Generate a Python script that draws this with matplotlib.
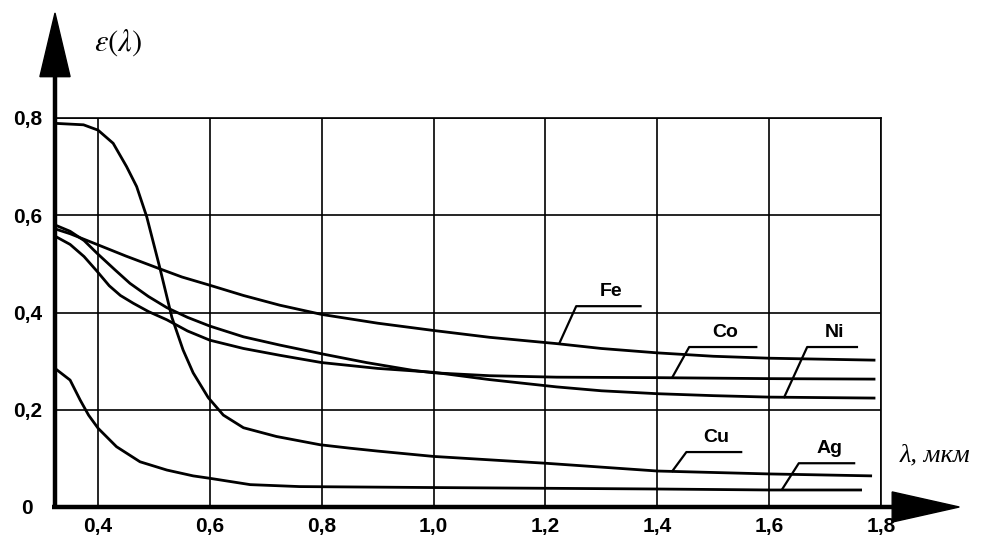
import matplotlib
matplotlib.use("Agg")
from matplotlib import pyplot as plt
from matplotlib.patches import Polygon

# wavelength (um) / emissivity readings for each metal
cu_x = [0.323, 0.374, 0.40, 0.427, 0.451, 0.469, 0.487, 0.51, 0.532, 0.552, 0.57,
        0.597, 0.624, 0.66, 0.719, 0.797, 0.85, 0.90, 1.0, 1.2, 1.4, 1.6, 1.784]
cu_y = [0.789, 0.786, 0.775, 0.748, 0.70, 0.659, 0.597, 0.494, 0.39, 0.323, 0.276,
        0.225, 0.189, 0.163, 0.145, 0.128, 0.121, 0.115, 0.104, 0.09, 0.074, 0.068, 0.064]

ag_x = [0.323, 0.35, 0.368, 0.383, 0.40, 0.433, 0.475, 0.523, 0.57, 0.60, 0.672,
        0.76, 1.0, 1.4, 1.6, 1.766]
ag_y = [0.285, 0.261, 0.22, 0.189, 0.162, 0.124, 0.093, 0.076, 0.064, 0.059, 0.046,
        0.042, 0.04, 0.037, 0.035, 0.035]

fe_x = [0.323, 0.35, 0.398, 0.45, 0.51, 0.55, 0.60, 0.66, 0.725, 0.80, 0.90, 1.0,
        1.1, 1.22, 1.3, 1.4, 1.5, 1.6, 1.79]
fe_y = [0.572, 0.562, 0.54, 0.516, 0.49, 0.473, 0.456, 0.435, 0.415, 0.396, 0.378, 0.363,
        0.349, 0.336, 0.326, 0.317, 0.31, 0.306, 0.302]

co_x = [0.323, 0.35, 0.375, 0.398, 0.43, 0.457, 0.49, 0.523, 0.56, 0.60, 0.66, 0.725,
        0.80, 0.88, 0.963, 1.0, 1.1, 1.22, 1.4, 1.6, 1.79]
co_y = [0.58, 0.567, 0.548, 0.522, 0.488, 0.46, 0.433, 0.41, 0.39, 0.372, 0.35, 0.333,
        0.315, 0.297, 0.281, 0.276, 0.27, 0.267, 0.266, 0.264, 0.263]

ni_x = [0.323, 0.35, 0.375, 0.398, 0.42, 0.44, 0.463, 0.49, 0.523, 0.56, 0.60, 0.66,
        0.725, 0.80, 0.90, 1.0, 1.1, 1.22, 1.3, 1.4, 1.5, 1.6, 1.79]
ni_y = [0.557, 0.54, 0.515, 0.485, 0.455, 0.435, 0.419, 0.402, 0.385, 0.362, 0.343, 0.326,
        0.312, 0.297, 0.285, 0.277, 0.262, 0.247, 0.239, 0.233, 0.229, 0.226, 0.224]

# leader for each label: point on curve, elbow, end of shelf
labels = ["Fe", "Co", "Ni", "Cu", "Ag"]
leader_x0 = [1.225, 1.427, 1.627, 1.427, 1.623]
leader_y0 = [0.337, 0.267, 0.226, 0.074, 0.036]
leader_x1 = [1.255, 1.457, 1.668, 1.452, 1.653]
leader_y1 = [0.413, 0.329, 0.329, 0.113, 0.090]
leader_x2 = [1.37, 1.577, 1.757, 1.55, 1.752]

xticks = [0.4, 0.6, 0.8, 1.0, 1.2, 1.4, 1.6, 1.8]
xlabels = ["0,4", "0,6", "0,8", "1,0", "1,2", "1,4", "1,6", "1,8"]
yticks = [0, 0.2, 0.4, 0.6, 0.8]
ylabels = ["0", "0,2", "0,4", "0,6", "0,8"]


def main():
    fig = plt.figure(figsize=(9.82, 5.37), dpi=100, facecolor='w')
    ax = fig.add_axes([55/982, 30/537, 826/982, 389/537])
    ax.set_xlim(0.323, 1.8)
    ax.set_ylim(0, 0.8)

    for s in ['left', 'bottom']:
        ax.spines[s].set_visible(False)
    for s in ['top', 'right']:
        ax.spines[s].set_linewidth(1.2)

    ax.set_xticks(xticks)
    ax.set_xticklabels(xlabels)
    ax.set_yticks(yticks)
    ax.set_yticklabels(ylabels, ha='center')
    ax.tick_params(length=0, labelsize=15)
    ax.tick_params(axis='x', pad=7)
    ax.tick_params(axis='y', pad=20)
    for lab in ax.get_xticklabels() + ax.get_yticklabels():
        lab.set_fontweight('bold')
        lab.set_fontfamily('Liberation Sans')
    ax.grid(True, color='k', linewidth=1.2)

    lw = 2.0
    for xs, ys in [(cu_x, cu_y), (ag_x, ag_y), (fe_x, fe_y), (co_x, co_y), (ni_x, ni_y)]:
        ax.plot(xs, ys, 'k-', linewidth=lw, solid_capstyle='butt')

    for i, name in enumerate(labels):
        ax.plot([leader_x0[i], leader_x1[i], leader_x2[i]],
                [leader_y0[i], leader_y1[i], leader_y1[i]],
                'k-', linewidth=1.6)
        ax.text((leader_x1[i] + leader_x2[i])/2 + 0.005, leader_y1[i] + 0.012, name,
                ha='center', va='bottom', fontsize=14, fontweight='bold',
                fontfamily='Liberation Sans')

    # thick axes with arrow heads
    ax.plot([0.323, 0.323], [-0.004, 0.89], 'k-', linewidth=3.2, clip_on=False,
            solid_capstyle='butt')
    ax.add_patch(Polygon([[0.323 - 0.027, 0.885], [0.323, 1.016], [0.323 + 0.027, 0.885]],
                         closed=True, color='k', clip_on=False))
    ax.plot([0.318, 1.825], [0, 0], 'k-', linewidth=3.2, clip_on=False,
            solid_capstyle='butt')
    ax.add_patch(Polygon([[1.82, -0.031], [1.94, 0], [1.82, 0.031]],
                         closed=True, color='k', clip_on=False))

    ax.text(0.436, 0.956, r'$\varepsilon(\lambda)$', fontsize=22, ha='center',
            va='center', math_fontfamily='stix')
    ax.text(1.897, 0.107, 'λ, мкм', fontsize=19, ha='center', va='center',
            fontfamily='Liberation Serif', style='italic')

    fig.savefig("out.png", dpi=100, facecolor='w')


if __name__ == "__main__":
    main()
